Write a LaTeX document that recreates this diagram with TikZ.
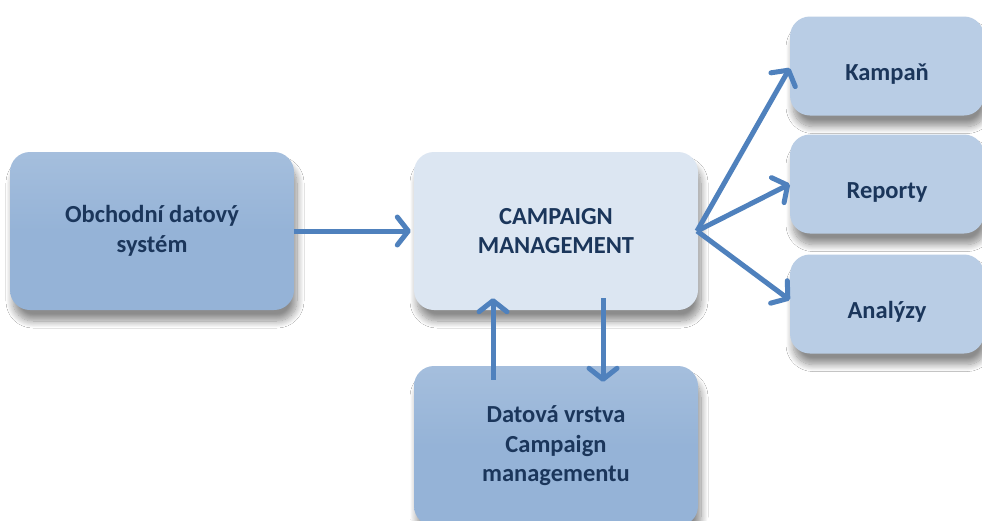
\documentclass[tikz,border=0pt]{standalone}
\usepackage{fontspec}
\setmainfont{Carlito}
\usetikzlibrary{positioning,arrows.meta,shadows.blur}
\definecolor{darkfill}{HTML}{95B3D7}
\definecolor{lightfill}{HTML}{DCE6F2}
\definecolor{midfill}{HTML}{B9CDE5}
\definecolor{arrowblue}{HTML}{4F81BD}
\definecolor{textnavy}{HTML}{1B365B}
\tikzset{%
  font=\fontsize{24.5}{29.5}\selectfont\bfseries,
  block/.style    = {rectangle, rounded corners=20pt, draw=none, text=textnavy,
                     align=center, blur shadow={shadow xshift=3pt,shadow yshift=-11pt,shadow blur radius=7pt,shadow blur steps=12,shadow opacity=45}},
  darkblock/.style  = {block, top color=darkfill!85!white, bottom color=darkfill, middle color=darkfill},
  lightblock/.style = {block, fill=lightfill},
  outblock/.style   = {block, fill=midfill, minimum width=194pt, minimum height=99pt,
                       text width=180pt, text height=32pt, text depth=4pt},
  line/.style     = {draw=arrowblue, line width=5pt,
                     -{Straight Barb[length=11pt,width=28pt,line cap=round,line join=round]}}
}
\begin{document}
\begin{tikzpicture}[x=1pt,y=-1pt]
	\useasboundingbox[fill=white] (0,0) rectangle (982,520);
	% main blocks
	\node[darkblock,minimum width=284pt,minimum height=158pt] (source) at (152,231) {Obchodní datový\\systém};
	\node[lightblock,minimum width=284pt,minimum height=158pt] (cm) at (556,231) {CAMPAIGN\\MANAGEMENT};
	\node[darkblock,minimum width=284pt,minimum height=160pt] (layer) at (556,446) {Datová vrstva\\Campaign\\managementu};
	% outputs on the right
	\node[outblock] (camp) at (887,66) {Kampaň};
	\node[outblock] (rep) at (887,184) {Reporty};
	\node[outblock] (anal) at (887,304) {Analýzy};
	% connectors
	\coordinate (fan) at (697,231);
	\draw[line] (source.east) -- ([xshift=-3pt]cm.west);
	\draw[line] ([yshift=-14pt]layer.north -| 493,0) -- ([yshift=12pt]cm.south -| 493,0);
	\draw[line] ([yshift=12pt]cm.south -| 603,0) -- ([yshift=-16pt]layer.north -| 603,0);
	\draw[line] (fan) -- (camp.west |- 0,68);
	\draw[line] (fan) -- (rep.west);
	\draw[line] (fan) -- (anal.west |- 0,300);
\end{tikzpicture}
\end{document}
